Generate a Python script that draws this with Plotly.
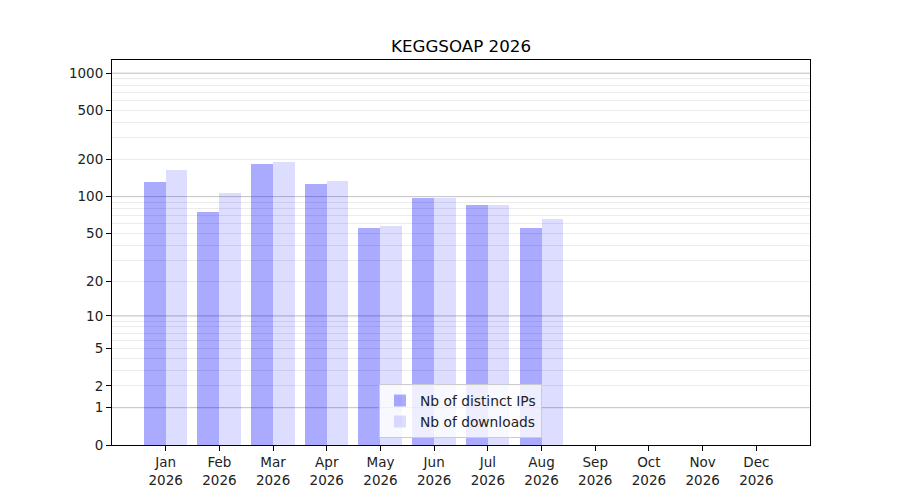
import numpy as np
import plotly.graph_objects as go

# Monthly stats
months = ["Jan", "Feb", "Mar", "Apr", "May", "Jun", "Jul", "Aug", "Sep", "Oct", "Nov", "Dec"]
year = "2026"
distinct_ips = [132, 75, 185, 127, 55, 98, 86, 55]
downloads = [165, 107, 192, 134, 57, 98, 86, 66]

y_tick_labels = [0, 1, 2, 5, 10, 20, 50, 100, 200, 500, 1000]
major_grid = [1, 10, 100, 1000]
minor_grid = [m * d for d in (1, 10, 100) for m in range(2, 10)]


def tr(v):
    """log10(1 + x) scale, same as the original figure"""
    return np.log10(1 + np.asarray(v, dtype=float))


month_pos = np.arange(1, len(months) + 1)

fig = go.Figure()
fig.add_trace(go.Bar(
    x=month_pos[:len(distinct_ips)], y=tr(distinct_ips), name="Nb of distinct IPs",
    offset=-0.41, width=0.41, marker=dict(color="rgba(0,0,255,0.333)", line_width=0),
    customdata=distinct_ips, hovertemplate="%{customdata}<extra></extra>",
))
fig.add_trace(go.Bar(
    x=month_pos[:len(downloads)], y=tr(downloads), name="Nb of downloads",
    offset=0, width=0.4, marker=dict(color="rgba(0,0,255,0.133)", line_width=0),
    customdata=downloads, hovertemplate="%{customdata}<extra></extra>",
))

# darker grid lines at the decades, drawn over the light grid but under the bars
for v in major_grid:
    fig.add_shape(type="line", xref="x", x0=0, x1=13, yref="y", y0=float(tr(v)), y1=float(tr(v)),
                  line=dict(color="#c4c4c4", width=1), layer="between")

# the page body has an 8px margin, so the figure margins are shifted to compensate
fig.update_layout(
    width=900, height=500,
    margin=dict(l=104, r=98, t=52, b=63),
    paper_bgcolor="white", plot_bgcolor="white",
    font=dict(family="DejaVu Sans", size=13, color="#222222"),
    title=dict(text="KEGGSOAP 2026", x=0.5, xref="paper", xanchor="center",
               y=1 - 38 / 500, yanchor="middle", font=dict(size=16.7, color="black")),
    barmode="overlay",
    bargap=0,
    showlegend=True,
    legend=dict(x=0.3825, y=0.018, xanchor="left", yanchor="bottom",
                bgcolor="rgba(255,255,255,0.8)", bordercolor="#cccccc", borderwidth=1,
                font=dict(size=13.8, color="#222222"), tracegroupgap=0,
                itemsizing="constant"),
)

fig.update_xaxes(
    range=[0, 13], tickmode="array", tickvals=month_pos,
    ticktext=[f"{m}<br>{year}" for m in months],
    showgrid=False, zeroline=False,
    showline=True, linecolor="black", linewidth=1, mirror=True,
    ticks="outside", ticklen=5, tickcolor="black",
    tickfont=dict(size=13.5, color="#222222"),
)
fig.update_yaxes(
    range=[0, 3.107], tickmode="array", tickvals=tr(y_tick_labels),
    ticktext=[str(v) for v in y_tick_labels],
    showgrid=True, gridcolor="#ebebeb", gridwidth=1, zeroline=False,
    showline=True, linecolor="black", linewidth=1, mirror=True,
    ticks="outside", ticklen=5, tickcolor="black",
    tickfont=dict(size=13.5, color="#222222"),
    minor=dict(tickmode="array", tickvals=tr(minor_grid), showgrid=True,
               gridcolor="#ebebeb", gridwidth=1, ticks=""),
)

fig.write_html("out.html")
